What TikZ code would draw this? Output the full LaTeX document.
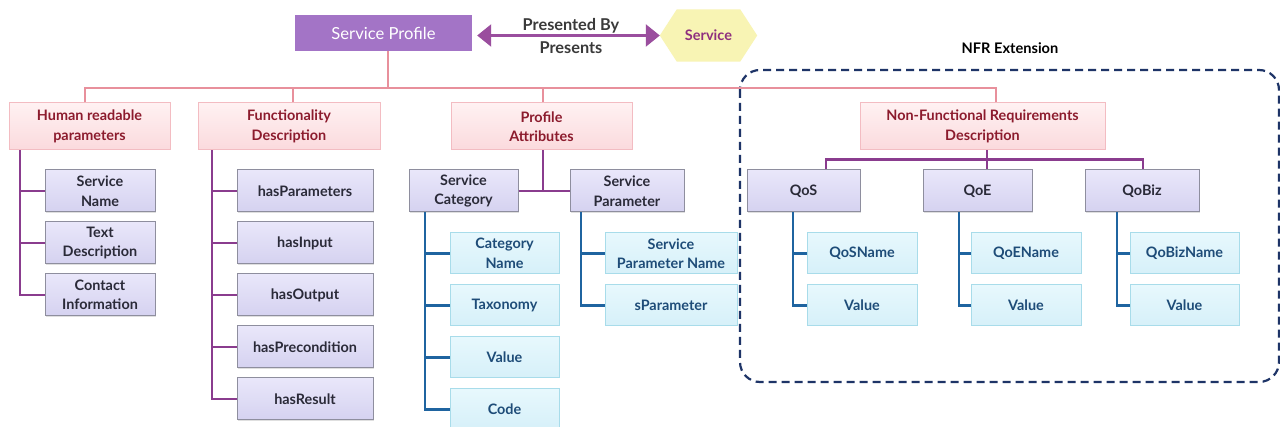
\documentclass[tikz,border=0pt]{standalone}
\usepackage{fontspec}
\setmainfont{Lato}
\usetikzlibrary{arrows.meta,shadows}
\definecolor{spFill}{HTML}{A374C6}
\definecolor{arrowC}{HTML}{9A4E9E}
\definecolor{hexFill}{HTML}{F8F4B4}
\definecolor{svcTx}{HTML}{8E2F7E}
\definecolor{pinkT}{HTML}{FFF1F2}
\definecolor{pinkB}{HTML}{FBDADD}
\definecolor{pinkD}{HTML}{F3BCC2}
\definecolor{pinkTx}{HTML}{8C1B2D}
\definecolor{pinkL}{HTML}{E8909C}
\definecolor{lavT}{HTML}{E9E7FA}
\definecolor{lavB}{HTML}{D5D2F0}
\definecolor{lavD}{HTML}{8E8E9E}
\definecolor{lavTx}{HTML}{2A2A38}
\definecolor{purpL}{HTML}{8A3C8E}
\definecolor{bluT}{HTML}{E7F8FD}
\definecolor{bluB}{HTML}{D6F0F9}
\definecolor{bluD}{HTML}{A8DCEA}
\definecolor{bluTx}{HTML}{1E4C78}
\definecolor{blueL}{HTML}{1F64A0}
\definecolor{dashC}{HTML}{1E3467}
\definecolor{labelTx}{HTML}{3A3A3A}
\begin{document}
\begin{tikzpicture}[x=1pt,y=-1pt,
  base/.style={rectangle, inner sep=0pt, align=center, font=\fontsize{14.4}{19.5}\selectfont\bfseries},
  pinkbox/.style={base, top color=pinkT, bottom color=pinkB, draw=pinkD, line width=1pt, text=pinkTx, minimum height=47},
  lavbox/.style={base, top color=lavT, bottom color=lavB, draw=lavD, line width=1pt, text=lavTx, minimum height=42,
    drop shadow={shadow xshift=1pt, shadow yshift=-1pt, opacity=0.25}},
  blubox/.style={base, top color=bluT, bottom color=bluB, draw=bluD, line width=1pt, text=bluTx, minimum height=41},
  pinkline/.style={draw=pinkL, line width=2pt},
  purpline/.style={draw=purpL, line width=2.5pt},
  blueline/.style={draw=blueL, line width=2.5pt},
  lbl/.style={inner sep=0pt, text=labelTx, font=\fontsize{16.3}{18}\selectfont\bfseries}
]
\useasboundingbox[fill=white] (0,0) rectangle (1280,427);

% NFR extension frame
\draw[dashC, line width=2.2pt, dash pattern=on 8pt off 5pt, rounded corners=20pt] (740,70) rectangle (1279,382);
\node[inner sep=0pt, font=\fontsize{14.6}{16}\selectfont\bfseries, text=black] (nfrx) at (1010,48) {NFR Extension};

% top
\node[rectangle, inner sep=0pt, fill=spFill, minimum width=177, minimum height=36, text=white,
  font=\fontsize{16.6}{19}\selectfont] (sp) at (383.5,33) {Service Profile};
\node[inner sep=0pt, minimum width=97, minimum height=52] (svc) at (708.5,35.5) {};
\fill[hexFill] ([xshift=17pt]svc.north west) -- ([xshift=-17pt]svc.north east) -- (svc.east)
  -- ([xshift=-17pt]svc.south east) -- ([xshift=17pt]svc.south west) -- (svc.west) -- cycle;
\node[inner sep=0pt, text=svcTx, font=\fontsize{14.5}{16}\selectfont\bfseries] (svclbl) at (svc.center) {Service};
\draw[arrowC, line width=2.5pt, arrows={Triangle[width=22pt,length=14pt]-Triangle[width=22pt,length=14pt]}, shorten <=5pt]
  (sp.east |- svc.west) -- (svc.west);
\node[lbl] (pby) at (571,26) {Presented By};
\node[lbl] (pres) at (571,48) {Presents};

% level 1
\node[pinkbox, minimum width=161] (hrp) at (89.5,126.5) {Human readable\\parameters};
\node[pinkbox, minimum width=182] (fd) at (289,126.5) {Functionality\\Description};
\node[pinkbox, minimum width=181] (pa) at (541.5,126.5) {Profile\\Attributes};
\node[pinkbox, minimum width=245] (nfr) at (982.5,126.5) {Non-Functional Requirements\\Description};

\coordinate (bus) at (388,88);
\draw[pinkline] ([xshift=4.5pt]sp.south) -- (bus);
\draw[pinkline] ([xshift=-4.5pt]hrp.north) |- (bus);
\draw[pinkline] ([xshift=4pt]fd.north) |- (bus);
\draw[pinkline] ([xshift=1.5pt]pa.north) |- (bus);
\draw[pinkline] ([xshift=13.5pt]nfr.north) |- (bus);

% human readable
\node[lavbox, minimum width=110] (sn) at (100,191) {Service\\Name};
\node[lavbox, minimum width=110] (td) at (100,243) {Text\\Description};
\node[lavbox, minimum width=110] (ci) at (100,295) {Contact\\Information};
\draw[purpline] ([xshift=-69.5pt]hrp.south) |- (sn.west);
\draw[purpline] ([xshift=-69.5pt]hrp.south) |- (td.west);
\draw[purpline] ([xshift=-69.5pt]hrp.south) |- (ci.west);

% functionality
\node[lavbox, minimum width=136] (hpar) at (305,191) {hasParameters};
\node[lavbox, minimum width=136] (hin) at (305,243) {hasInput};
\node[lavbox, minimum width=136] (hout) at (305,295) {hasOutput};
\node[lavbox, minimum width=136] (hpre) at (305,347) {hasPrecondition};
\node[lavbox, minimum width=136] (hres) at (305,399) {hasResult};
\foreach \n in {hpar,hin,hout,hpre,hres}
  \draw[purpline] ([xshift=-77pt]fd.south) |- (\n.west);

% profile attributes
\node[lavbox, minimum width=109] (sc) at (463.5,191) {Service\\Category};
\node[lavbox, minimum width=114] (spar) at (627,191) {Service\\Parameter};
\draw[purpline] ([xshift=1.5pt]pa.south) -- ([xshift=1.5pt]pa.south |- sc.east);
\draw[purpline] (sc.east) -- (spar.west);

\node[blubox, minimum width=109] (cn) at (504.5,253.5) {Category\\Name};
\node[blubox, minimum width=109] (tax) at (504.5,305.5) {Taxonomy};
\node[blubox, minimum width=109] (val) at (504.5,357.5) {Value};
\node[blubox, minimum width=109] (code) at (504.5,409.5) {Code};
\foreach \n in {cn,tax,val,code}
  \draw[blueline] ([xshift=-38.5pt]sc.south) |- (\n.west);

\node[blubox, minimum width=132] (spn) at (671,253.5) {Service\\Parameter Name};
\node[blubox, minimum width=132] (sprm) at (671,305.5) {sParameter};
\foreach \n in {spn,sprm}
  \draw[blueline] ([xshift=-46pt]spar.south) |- (\n.west);

% NFR
\node[lavbox, minimum width=113] (qos) at (803.5,191) {QoS};
\node[lavbox, minimum width=109] (qoe) at (977.5,191) {QoE};
\node[lavbox, minimum width=114] (qob) at (1142,191) {QoBiz};
\draw[purpline] ([xshift=4.5pt]nfr.south) -- ([xshift=9.5pt]qoe.north);
\draw[purpline] ([xshift=22.5pt]qos.north) -- ++(0,-10) -| ([xshift=1pt]qob.north);

\node[blubox, minimum width=110] (qosn) at (862,253.5) {QoSName};
\node[blubox, minimum width=110] (qosv) at (862,305.5) {Value};
\node[blubox, minimum width=110] (qoen) at (1026,253.5) {QoEName};
\node[blubox, minimum width=110] (qoev) at (1026,305.5) {Value};
\node[blubox, minimum width=109] (qobn) at (1184.5,253.5) {QoBizName};
\node[blubox, minimum width=109] (qobv) at (1184.5,305.5) {Value};
\foreach \n in {qosn,qosv}
  \draw[blueline] ([xshift=-10.5pt]qos.south) |- (\n.west);
\foreach \n in {qoen,qoev}
  \draw[blueline] ([xshift=-18.5pt]qoe.south) |- (\n.west);
\foreach \n in {qobn,qobv}
  \draw[blueline] ([xshift=-25pt]qob.south) |- (\n.west);
\end{tikzpicture}
\end{document}
